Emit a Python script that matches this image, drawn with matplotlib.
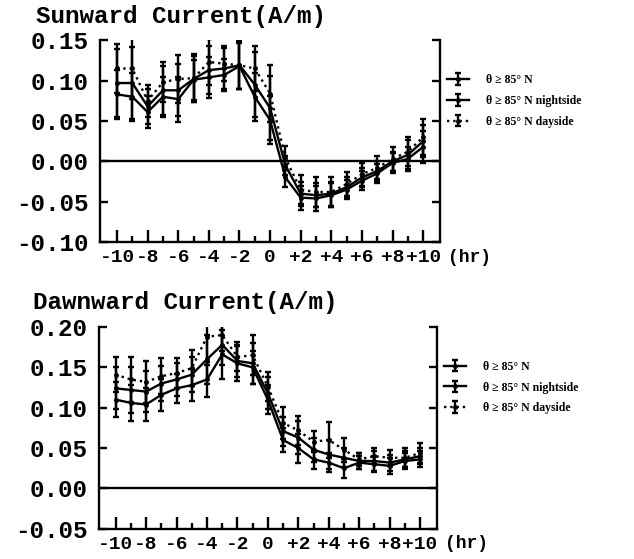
import numpy as np
import matplotlib.pyplot as plt

# hours relative to reference time
hours = list(range(-10, 11))

# Sunward current (A/m)
sun_all = [0.097, 0.097, 0.068, 0.088, 0.088, 0.102, 0.113, 0.115, 0.119, 0.095, 0.066,
           -0.005, -0.040, -0.042, -0.040, -0.032, -0.020, -0.012, 0.000, 0.008, 0.025]
sun_night = [0.083, 0.080, 0.061, 0.080, 0.077, 0.101, 0.104, 0.107, 0.118, 0.080, 0.051,
             -0.020, -0.045, -0.046, -0.042, -0.035, -0.024, -0.015, -0.002, 0.003, 0.018]
sun_day = [0.115, 0.115, 0.075, 0.098, 0.102, 0.103, 0.123, 0.121, 0.119, 0.115, 0.084,
           0.004, -0.035, -0.038, -0.038, -0.028, -0.016, -0.008, 0.003, 0.012, 0.030]
sun_all_err = [0.042, 0.045, 0.022, 0.030, 0.032, 0.028, 0.030, 0.025, 0.030, 0.040, 0.040,
               0.012, 0.015, 0.015, 0.015, 0.012, 0.012, 0.012, 0.012, 0.018, 0.020]
sun_night_err = [0.030, 0.030, 0.020, 0.025, 0.028, 0.025, 0.025, 0.020, 0.028, 0.030, 0.030,
                 0.012, 0.015, 0.015, 0.015, 0.012, 0.012, 0.012, 0.012, 0.015, 0.020]
sun_day_err = [0.030, 0.038, 0.020, 0.025, 0.030, 0.030, 0.028, 0.022, 0.030, 0.028, 0.035,
               0.015, 0.018, 0.018, 0.018, 0.015, 0.014, 0.014, 0.015, 0.018, 0.022]

# Dawnward current (A/m)
dawn_all = [0.124, 0.122, 0.120, 0.130, 0.135, 0.141, 0.160, 0.178, 0.158, 0.155, 0.118,
            0.071, 0.063, 0.048, 0.042, 0.038, 0.034, 0.034, 0.032, 0.036, 0.040]
dawn_night = [0.110, 0.106, 0.104, 0.116, 0.124, 0.128, 0.135, 0.166, 0.155, 0.150, 0.110,
              0.060, 0.050, 0.036, 0.032, 0.025, 0.032, 0.030, 0.028, 0.034, 0.036]
dawn_day = [0.141, 0.135, 0.132, 0.139, 0.143, 0.149, 0.188, 0.190, 0.163, 0.165, 0.126,
            0.081, 0.072, 0.058, 0.060, 0.048, 0.036, 0.040, 0.038, 0.038, 0.044]
dawn_all_err = [0.026, 0.028, 0.025, 0.022, 0.020, 0.022, 0.030, 0.025, 0.020, 0.025, 0.020,
                0.018, 0.020, 0.015, 0.018, 0.012, 0.010, 0.012, 0.010, 0.010, 0.010]
dawn_night_err = [0.022, 0.022, 0.020, 0.020, 0.018, 0.020, 0.022, 0.030, 0.022, 0.020, 0.018,
                  0.015, 0.018, 0.012, 0.012, 0.012, 0.008, 0.010, 0.010, 0.010, 0.010]
dawn_day_err = [0.022, 0.028, 0.026, 0.022, 0.018, 0.022, 0.035, 0.020, 0.018, 0.025, 0.018,
                0.020, 0.018, 0.013, 0.022, 0.015, 0.008, 0.010, 0.010, 0.012, 0.012]

labels = ["θ ≥ 85° N", "θ ≥ 85° N nightside", "θ ≥ 85° N dayside"]
xtick_labels = ["-10", "-8", "-6", "-4", "-2", "0", "+2", "+4", "+6", "+8", "+10"]

mono = ['Liberation Mono', 'DejaVu Sans Mono']
serif = ['Liberation Serif', 'DejaVu Serif']

fig = plt.figure(figsize=(6.34, 5.59), dpi=100)


def panel(rect, series, errs, ylim, yticks, title, title_x, title_y):
    ax = fig.add_axes(rect)
    styles = ['-', '-', ':']
    handles = []
    for vals, err, ls, lab in zip(series, errs, styles, labels):
        h = ax.errorbar(hours, vals, yerr=err, color='black', linestyle=ls, lw=1.7,
                        marker='o', ms=2.5, elinewidth=1.7, capsize=2.5, capthick=1.7,
                        label=lab)
        handles.append(h)
    ax.axhline(0, color='black', lw=1.7)
    ax.set_xlim(-11.1, 11.1)
    ax.set_ylim(*ylim)
    ax.set_yticks(yticks)
    ax.set_yticklabels([f"{t:.2f}" for t in yticks], family=mono, weight='bold', fontsize=17.5)
    ax.set_xticks(range(-10, 11, 2))
    ax.set_xticks(range(-9, 10, 2), minor=True)
    ax.set_xticklabels(xtick_labels, family=mono, weight='bold', fontsize=14)
    ax.spines['top'].set_visible(False)
    for s in ['left', 'right', 'bottom']:
        ax.spines[s].set_linewidth(1.7)
    ax.tick_params(axis='y', direction='in', length=6, width=1.7, right=True, pad=8)
    ax.tick_params(axis='x', which='major', direction='in', length=9, width=1.7, pad=5)
    ax.tick_params(axis='x', which='minor', direction='in', length=4, width=1.7)
    ax.text(1.025, -0.075, "(hr)", transform=ax.transAxes, ha='left', va='center',
            family=mono, weight='bold', fontsize=13)
    fig.text(title_x, title_y, title, ha='left', va='center', family=mono,
             weight='bold', fontsize=17.5)
    ax.legend(handles=handles, loc='center left', bbox_to_anchor=(1.02, 0.70),
              frameon=False, borderpad=0, borderaxespad=0, handlelength=1.9,
              handletextpad=1.4, labelspacing=0.75,
              prop={'family': serif, 'weight': 'bold', 'size': 8.5})
    return ax


panel([0.158, 0.567, 0.536, 0.361], [sun_all, sun_night, sun_day],
      [sun_all_err, sun_night_err, sun_day_err], (-0.10, 0.15),
      [-0.10, -0.05, 0.00, 0.05, 0.10, 0.15], "Sunward Current(A/m)",
      0.057, 1 - 16 / 559)
panel([0.156, 0.054, 0.533, 0.361], [dawn_all, dawn_night, dawn_day],
      [dawn_all_err, dawn_night_err, dawn_day_err], (-0.05, 0.20),
      [-0.05, 0.00, 0.05, 0.10, 0.15, 0.20], "Dawnward Current(A/m)",
      0.052, 1 - 303 / 559)

fig.savefig("out.png", dpi=100)
